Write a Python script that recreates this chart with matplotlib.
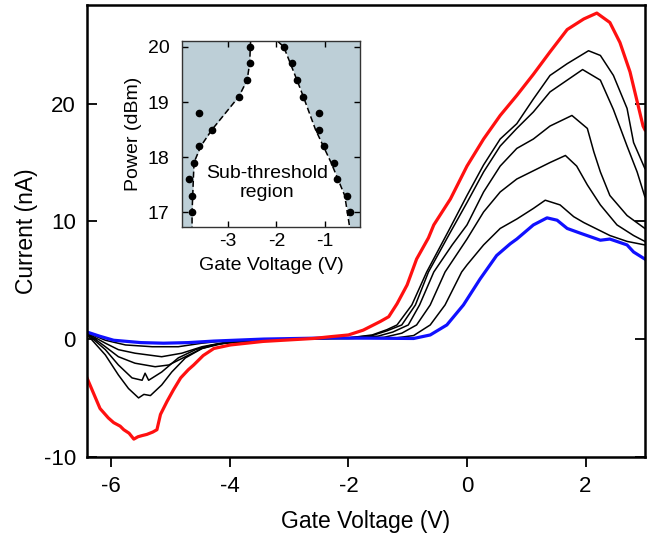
import matplotlib
matplotlib.use('Agg')
import matplotlib.pyplot as plt

plt.rcParams['font.family'] = ['Liberation Sans', 'DejaVu Sans']
plt.rcParams['axes.unicode_minus'] = False

# ---------------- main panel data (gate voltage V, current nA) ----------------
red_v = [-6.41, -6.3, -6.19, -6.05, -5.96, -5.85, -5.79, -5.70, -5.62, -5.55, -5.48,
         -5.40, -5.30, -5.23, -5.17, -5.06, -4.95, -4.83, -4.70, -4.61, -4.45, -4.27,
         -3.99, -3.44, -2.59, -2.31, -2.0, -1.75, -1.46, -1.32, -1.18, -1.01, -0.85,
         -0.65, -0.56, -0.28, 0.0, 0.28, 0.56, 0.84, 1.12, 1.40, 1.69, 1.97, 2.19,
         2.41, 2.58, 2.75, 2.86, 2.97, 3.0]
red_i = [-3.3, -4.6, -5.9, -6.7, -7.1, -7.4, -7.7, -8.0, -8.5, -8.3, -8.2,
         -8.1, -7.9, -7.7, -6.4, -5.3, -4.3, -3.3, -2.6, -2.2, -1.4, -0.8,
         -0.5, -0.2, 0.05, 0.2, 0.35, 0.76, 1.5, 1.9, 3.0, 4.6, 6.8,
         8.6, 9.7, 11.9, 14.7, 17.0, 19.0, 20.7, 22.5, 24.4, 26.3, 27.2, 27.7,
         26.9, 25.2, 22.7, 20.4, 18.1, 17.8]

blue_v = [-6.41, -6.2, -5.96, -5.5, -5.12, -4.7, -4.27, -3.43, -2.31, -0.9, -0.62,
          -0.34, -0.06, 0.22, 0.50, 0.73, 0.84, 1.12, 1.35, 1.52, 1.69, 1.91, 2.25,
          2.41, 2.70, 2.81, 3.0]
blue_i = [0.6, 0.25, -0.1, -0.3, -0.35, -0.3, -0.17, 0.0, 0.1, 0.05, 0.35,
          1.2, 2.9, 5.1, 7.1, 8.1, 8.5, 9.7, 10.3, 10.1, 9.4, 9.0, 8.4,
          8.5, 8.0, 7.4, 6.8]

b1_v = [-6.41, -6.10, -5.88, -5.71, -5.54, -5.45, -5.34, -5.15, -4.98, -4.75, -4.47,
        -4.19, -3.8, -3.3, -2.5, -2.0, -1.6, -1.35, -1.18, -0.93, -0.68, -0.3, 0.0,
        0.28, 0.56, 0.84, 1.12, 1.40, 1.69, 2.05, 2.25, 2.47, 2.70, 2.81, 3.0]
b1_i = [0.4, -1.35, -3.05, -4.2, -5.0, -4.7, -4.8, -3.9, -2.8, -1.6, -0.8,
        -0.4, -0.2, -0.05, 0.05, 0.1, 0.35, 0.8, 1.2, 2.9, 5.7, 9.3, 12.2,
        14.8, 17.0, 18.3, 20.4, 22.4, 23.4, 24.5, 24.1, 22.4, 19.6, 16.7, 14.5]

b2_v = [-6.41, -6.10, -5.88, -5.65, -5.48, -5.43, -5.37, -5.15, -4.87, -4.58, -4.30,
        -3.9, -3.3, -2.5, -2.0, -1.6, -1.35, -1.10, -0.87, -0.65, -0.3, 0.0,
        0.28, 0.56, 0.84, 1.12, 1.40, 1.95, 2.25, 2.47, 2.70, 2.87, 3.0]
b2_i = [0.45, -0.9, -2.2, -3.3, -3.5, -2.9, -3.5, -2.8, -1.6, -0.9, -0.5,
        -0.25, -0.05, 0.05, 0.1, 0.3, 0.7, 1.2, 2.9, 5.7, 8.9, 11.6,
        14.2, 16.4, 17.9, 19.3, 21.0, 22.9, 22.0, 19.5, 16.4, 14.2, 12.1]

b3_v = [-6.41, -6.10, -5.88, -5.60, -5.26, -5.03, -4.75, -4.47, -4.1, -3.5, -2.5,
        -2.0, -1.5, -1.25, -0.99, -0.80, -0.56, -0.25, 0.0, 0.28, 0.56, 0.84,
        1.12, 1.40, 1.77, 2.03, 2.14, 2.25, 2.41, 2.70, 3.0]
b3_i = [0.5, -0.65, -1.5, -2.05, -2.35, -2.2, -1.5, -0.8, -0.35, -0.1, 0.05,
        0.08, 0.25, 0.6, 1.2, 2.9, 5.7, 8.0, 9.7, 12.5, 14.7, 16.2,
        17.0, 18.1, 19.0, 17.9, 15.9, 14.2, 12.2, 10.5, 9.4]

b4_v = [-6.41, -6.10, -5.88, -5.60, -5.15, -4.81, -4.47, -4.1, -3.5, -2.5, -2.0,
        -1.4, -1.1, -0.85, -0.62, -0.37, 0.0, 0.28, 0.56, 0.84, 1.12, 1.40,
        1.66, 1.85, 2.03, 2.25, 2.53, 2.81, 3.0]
b4_i = [0.5, -0.35, -0.9, -1.2, -1.5, -1.2, -0.65, -0.3, -0.05, 0.05, 0.05,
        0.15, 0.5, 1.2, 2.9, 5.7, 8.5, 10.8, 12.5, 13.6, 14.3, 15.0,
        15.6, 14.7, 13.1, 11.4, 9.7, 8.8, 8.3]

b5_v = [-6.41, -6.10, -5.76, -5.31, -4.87, -4.47, -4.0, -3.0, -2.0, -1.2, -0.9,
        -0.62, -0.37, -0.09, 0.0, 0.28, 0.56, 0.84, 1.12, 1.32, 1.57, 1.80, 1.97,
        2.41, 2.70, 3.0]
b5_i = [0.55, -0.1, -0.5, -0.65, -0.65, -0.35, -0.1, 0.0, 0.05, 0.1, 0.3,
        1.2, 2.9, 5.7, 6.3, 8.0, 9.4, 10.2, 11.1, 11.8, 11.4, 10.4, 9.9,
        8.8, 8.3, 8.0]

# ---------------- inset data (gate voltage V, power dBm) ----------------
left_pts_v = [-2.55, -2.55, -2.61, -2.77, -3.58, -3.32, -3.58, -3.69, -3.79, -3.74, -3.74]
left_pts_p = [20.0, 19.7, 19.4, 19.1, 18.8, 18.5, 18.2, 17.9, 17.6, 17.3, 17.0]
right_pts_v = [-1.85, -1.68, -1.58, -1.46, -1.13, -1.13, -1.03, -0.81, -0.76, -0.55, -0.49]
right_pts_p = [20.0, 19.7, 19.4, 19.1, 18.8, 18.5, 18.2, 17.9, 17.6, 17.3, 17.0]

left_edge_v = [-2.53, -2.55, -2.6, -2.77, -3.32, -3.55, -3.69, -3.73, -3.73]
left_edge_p = [20.1, 19.7, 19.4, 19.1, 18.5, 18.2, 17.9, 17.0, 16.73]
right_edge_v = [-1.97, -1.85, -1.58, -1.45, -1.2, -0.88, -0.6, -0.5]
right_edge_p = [20.1, 20.0, 19.4, 19.1, 18.5, 17.9, 17.3, 16.73]

fig = plt.figure(figsize=(6.54, 5.38), dpi=100)
ax = fig.add_axes([0.133, 0.151, 0.853, 0.840])

for v, i in [(b1_v, b1_i), (b2_v, b2_i), (b3_v, b3_i), (b4_v, b4_i), (b5_v, b5_i)]:
    ax.plot(v, i, color='black', lw=1.1)
ax.plot(blue_v, blue_i, color='#1010ff', lw=2.3)
ax.plot(red_v, red_i, color='#ff1010', lw=2.3)

ax.set_xlim(-6.41, 3.0)
ax.set_ylim(-10, 28.4)
ax.set_xticks([-6, -4, -2, 0, 2])
ax.set_yticks([-10, 0, 10, 20])
ax.tick_params(axis='x', direction='out', length=7, width=1.3, labelsize=16, pad=7)
ax.tick_params(axis='y', direction='in', length=7, width=1.3, labelsize=16,
               left=True, right=True, pad=8)
for s in ax.spines.values():
    s.set_linewidth(1.8)
ax.set_xlabel('Gate Voltage (V)', fontsize=16.5, labelpad=9)
ax.set_ylabel('Current (nA)', fontsize=16.5, labelpad=4)

# inset
ins = fig.add_axes([0.278, 0.578, 0.273, 0.345])
ins.set_xlim(-3.94, -0.28)
ins.set_ylim(16.73, 20.1)
fill_col = '#bdcfd7'
ins.fill_betweenx(left_edge_p, -3.94, left_edge_v, color=fill_col, lw=0)
ins.fill_betweenx(right_edge_p, right_edge_v, -0.28, color=fill_col, lw=0)
ins.plot(left_edge_v, left_edge_p, color='black', lw=1.1, ls=(0, (4, 2)))
ins.plot(right_edge_v, right_edge_p, color='black', lw=1.1, ls=(0, (4, 2)))
ins.plot(left_pts_v, left_pts_p, 'o', color='black', ms=4.5)
ins.plot(right_pts_v, right_pts_p, 'o', color='black', ms=4.5)
ins.text(-2.2, 17.53, 'Sub-threshold\nregion', ha='center', va='center',
         fontsize=14, linespacing=1.1)

ins.set_xticks([-3, -2, -1])
ins.set_yticks([17, 18, 19, 20])
ins.tick_params(axis='x', direction='in', length=4, width=1, labelsize=14,
                top=True, pad=4)
ins.tick_params(axis='y', direction='in', length=4, width=1, labelsize=14,
                right=True, pad=9)
for s in ins.spines.values():
    s.set_linewidth(1.0)
    s.set_color('#333333')
ins.set_xlabel('Gate Voltage (V)', fontsize=14, labelpad=5)
ins.set_ylabel('Power (dBm)', fontsize=14, labelpad=4)

fig.savefig('out.png', dpi=100)
